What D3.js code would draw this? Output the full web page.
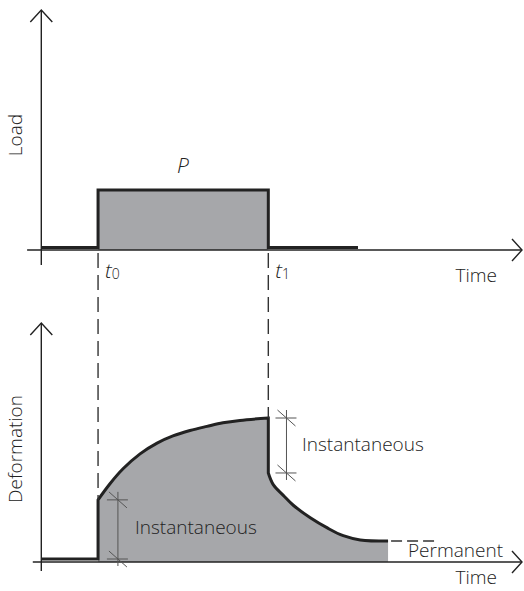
<!DOCTYPE html>
<html>
<head>
<meta charset="utf-8">
<script src="https://cdn.jsdelivr.net/npm/d3@7"></script>
<style>
  body { margin: 0; background: #fff; }
  text { font-family: "Open Sans", sans-serif; font-weight: 300; fill: #222; }
</style>
</head>
<body>
<svg id="chart" width="524" height="591"></svg>
<script>
// time units: t0 = 1, t1 = 4
var t0 = 1, t1 = 4;
var loadSteps = [[0, 0.04], [1, 0.04], [1, 1], [4, 1], [4, 0.04], [5.58, 0.04]];
var P = 1;

// deformation
var defBase = [[0, 0.05], [1, 0.05]];
var defRise = [[1, 1.04], [1.21, 1.31], [1.44, 1.56], [1.74, 1.81], [2.04, 1.99], [2.32, 2.11],
               [2.62, 2.2], [2.92, 2.27], [3.2, 2.33], [3.5, 2.37], [4, 2.41]];
var defDecay = [[4, 1.49], [4.09, 1.29], [4.26, 1.12], [4.44, 0.95], [4.74, 0.74], [5.04, 0.57],
                [5.32, 0.44], [5.62, 0.37], [6.11, 0.35]];
var permanentEnd = 6.98;

var svg = d3.select('#chart');
var x = d3.scaleLinear().domain([0, 8.47]).range([41.3, 522]);
var yLoad = d3.scaleLinear().domain([0, 4]).range([250, 10]);
var yDef = d3.scaleLinear().domain([0, 4]).range([562, 323]);

var ink = '#222', grey = '#a6a7aa';

function axes(y, xStart, yStart) {
    var g = svg.append('g').attr('fill', 'none').attr('stroke', ink).attr('stroke-width', 1.4);
    g.append('line').attr('x1', x(0)).attr('x2', x(0)).attr('y1', y(yStart)).attr('y2', y(4));
    g.append('line').attr('x1', x(xStart)).attr('x2', x(8.47)).attr('y1', y(0)).attr('y2', y(0));
    g.append('polyline').attr('points', [[x(0) - 11, y(4) + 12], [x(0), y(4)], [x(0) + 11, y(4) + 12]].join(' '));
    g.append('polyline').attr('points', [[x(8.47) - 10, y(0) - 11], [x(8.47), y(0)], [x(8.47) - 10, y(0) + 11]].join(' '));
}

// ---- load panel ----
svg.append('rect')
    .attr('x', x(t0)).attr('y', yLoad(P))
    .attr('width', x(t1) - x(t0)).attr('height', yLoad(0) - yLoad(P))
    .attr('fill', grey);
axes(yLoad, -0.25, -0.25);
svg.append('path')
    .attr('d', d3.line().x(d => x(d[0])).y(d => yLoad(d[1]))(loadSteps))
    .attr('fill', 'none').attr('stroke', ink).attr('stroke-width', 3);

// ---- deformation panel ----
var lineDef = d3.line().x(d => x(d[0])).y(d => yDef(d[1]));
var lineCurve = d3.line().x(d => x(d[0])).y(d => yDef(d[1])).curve(d3.curveCatmullRom.alpha(0.5));
var risePath = lineCurve(defRise), decayPath = lineCurve(defDecay);

svg.append('path')
    .attr('d', 'M' + x(t0) + ',' + yDef(0) + 'L' + risePath.slice(1) + 'L' + decayPath.slice(1) +
        'L' + x(defDecay[defDecay.length - 1][0]) + ',' + yDef(0) + 'Z')
    .attr('fill', grey);
axes(yDef, -0.15, -0.15);

svg.append('path')
    .attr('d', lineDef(defBase.concat([defRise[0]])) + 'L' + risePath.slice(1) + 'L' + decayPath.slice(1))
    .attr('fill', 'none').attr('stroke', ink).attr('stroke-width', 3).attr('stroke-linejoin', 'miter');

var last = defDecay[defDecay.length - 1];
svg.append('line')
    .attr('x1', x(last[0]) + 3).attr('x2', x(permanentEnd))
    .attr('y1', yDef(last[1])).attr('y2', yDef(last[1]))
    .attr('stroke', '#333').attr('stroke-width', 1.5).attr('stroke-dasharray', '11,5');

// dashed guides
[[t0, defRise[0][1]], [t1, defRise[defRise.length - 1][1]]].forEach(function (d) {
    svg.append('line')
        .attr('x1', x(d[0])).attr('x2', x(d[0]))
        .attr('y1', yLoad(0) + 3).attr('y2', yDef(d[1]))
        .attr('stroke', '#333').attr('stroke-width', 1.4).attr('stroke-dasharray', '15,7');
});

// instantaneous brackets
function bracket(t, lo, hi) {
    var g = svg.append('g').attr('stroke', '#555').attr('stroke-width', 1).attr('fill', 'none');
    var cx = x(t);
    g.append('line').attr('x1', cx).attr('x2', cx).attr('y1', yDef(hi) - 8).attr('y2', yDef(lo) + 7);
    [lo, hi].forEach(function (v) {
        var cy = yDef(v);
        g.append('line').attr('x1', cx - 11).attr('x2', cx + 10).attr('y1', cy).attr('y2', cy);
        g.append('line').attr('x1', cx - 9).attr('x2', cx + 9).attr('y1', cy - 8).attr('y2', cy + 8);
    });
}
bracket(1.35, defBase[1][1], defRise[0][1]);
bracket(4.32, defDecay[0][1], defRise[defRise.length - 1][1]);

// ---- texts ----
function label(txt, px, py, opts) {
    opts = opts || {};
    var t = svg.append('text').attr('x', px).attr('y', py)
        .style('font-size', (opts.size || 19) + 'px')
        .text(txt);
    if (opts.italic) t.style('font-style', 'italic');
    if (opts.anchor) t.attr('text-anchor', opts.anchor);
    return t;
}
label('Time', 497, 282, { anchor: 'end' });
label('Time', 497, 584, { anchor: 'end' });
label('P', 183, 173, { size: 21, italic: true, anchor: 'middle' });
label('Instantaneous', 302, 451);
label('Instantaneous', 135, 534);
label('Permanent', 503, 557, { anchor: 'end' });

svg.append('text').attr('transform', 'translate(22,135) rotate(-90)')
    .attr('text-anchor', 'middle').style('font-size', '19px').text('Load');
svg.append('text').attr('transform', 'translate(22,449) rotate(-90)')
    .attr('text-anchor', 'middle').style('font-size', '19px').text('Deformation');

[[t0, '0'], [t1, '1']].forEach(function (d) {
    var t = svg.append('text').attr('x', x(d[0]) + 7).attr('y', 278)
        .style('font-size', '21px');
    t.append('tspan').style('font-style', 'italic').text('t');
    t.append('tspan').attr('dy', 1).style('font-size', '14px').text(d[1]);
});
</script>
</body>
</html>
